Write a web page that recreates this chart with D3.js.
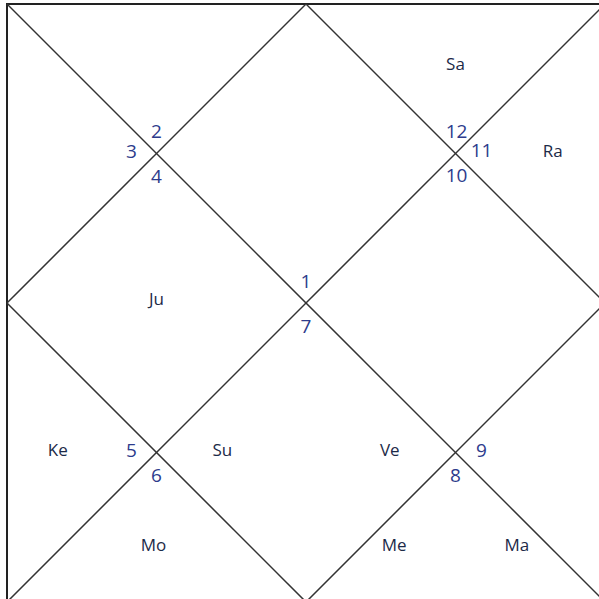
<!DOCTYPE html>
<html>
<head>
<meta charset="utf-8">
<script src="https://cdn.jsdelivr.net/npm/d3@7"></script>
<style>
  html, body { margin: 0; padding: 0; background: #fff; overflow: hidden; }
  svg { display: block; }
</style>
</head>
<body>
<div id="chart"></div>
<script>
// sign number shown in each house (house 1 = top diamond, counter-clockwise)
const houseSigns = [1, 2, 3, 4, 5, 6, 7, 8, 9, 10, 11, 12];
// planets and the house they sit in
const planets = ["Sa", "Ra", "Ju", "Ke", "Su", "Ve", "Mo", "Me", "Ma"];
const planetHouse = [12, 11, 4, 5, 7, 7, 6, 8, 8];

const width = 599, height = 599;
const x = d3.scaleLinear().domain([0, 4]).range([7, 605]);
const y = d3.scaleLinear().domain([0, 4]).range([4, 602]);
const font = "'Open Sans', 'Noto Sans', sans-serif";

const svg = d3.select("#chart").append("svg")
  .attr("width", width).attr("height", height);

// outer box + diagonals + inner diamond
const lines = [
  [[0, 0], [4, 4]], [[4, 0], [0, 4]],
  [[2, 0], [4, 2]], [[4, 2], [2, 4]], [[2, 4], [0, 2]], [[0, 2], [2, 0]]
];
svg.append("rect")
  .attr("x", x(0)).attr("y", y(0))
  .attr("width", x(4) - x(0)).attr("height", y(4) - y(0))
  .attr("fill", "none").attr("stroke", "#222").attr("stroke-width", 2);
svg.selectAll("line.l").data(lines).enter().append("line")
  .attr("class", "l")
  .attr("x1", d => x(d[0][0])).attr("y1", d => y(d[0][1]))
  .attr("x2", d => x(d[1][0])).attr("y2", d => y(d[1][1]))
  .attr("stroke", "#333").attr("stroke-width", 1.5);

// where each house's sign number goes: crossing point + pixel offset to glyph centre
const signSpots = {
  1: [2, 2, 0, -22], 2: [1, 1, 0, -22], 3: [1, 1, -25, -2], 4: [1, 1, 0, 23],
  5: [1, 3, -25, -2], 6: [1, 3, 0, 23], 7: [2, 2, 0, 23], 8: [3, 3, 0, 23],
  9: [3, 3, 26, -2], 10: [3, 1, 1, 22], 11: [3, 1, 26, -3], 12: [3, 1, 1, -22.5]
};
const signSize = 19;
svg.selectAll("text.sign").data(houseSigns).enter().append("text")
  .attr("class", "sign")
  .attr("x", (d, i) => x(signSpots[i + 1][0]) + signSpots[i + 1][2])
  .attr("y", (d, i) => y(signSpots[i + 1][1]) + signSpots[i + 1][3] + signSize * 0.36)
  .attr("text-anchor", "middle")
  .attr("font-family", font)
  .attr("font-size", signSize).attr("fill", "#2d3b8c")
  .text(d => d);

// planet label anchor points inside houses (unit coords)
const houseCenter = {
  1: [2, 0.98], 2: [1, 0.4], 3: [0.35, 0.98], 4: [1, 1.975], 5: [0.34, 2.98], 6: [0.98, 3.62],
  7: [2, 2.98], 8: [3, 3.62], 9: [3.65, 2.98], 10: [3, 1.975], 11: [3.65, 0.98], 12: [3, 0.4]
};
const spread = { 7: 0.56, 8: 0.41 };
const count = {}, seen = {};
planetHouse.forEach(h => count[h] = (count[h] || 0) + 1);
const pos = planetHouse.map(h => {
  const k = seen[h] = (seen[h] || 0) + 1;
  const n = count[h];
  const dx = n > 1 ? (k - (n + 1) / 2) * 2 * (spread[h] || 0.4) / (n - 1) : 0;
  return [houseCenter[h][0] + dx, houseCenter[h][1]];
});

const plSize = 17;
svg.selectAll("text.pl").data(planets).enter().append("text")
  .attr("class", "pl")
  .attr("x", (d, i) => x(pos[i][0]))
  .attr("y", (d, i) => y(pos[i][1]) + plSize * 0.36)
  .attr("text-anchor", "middle")
  .attr("font-family", font)
  .attr("font-size", plSize).attr("fill", "#1c2a48")
  .text(d => d);
</script>
</body>
</html>
